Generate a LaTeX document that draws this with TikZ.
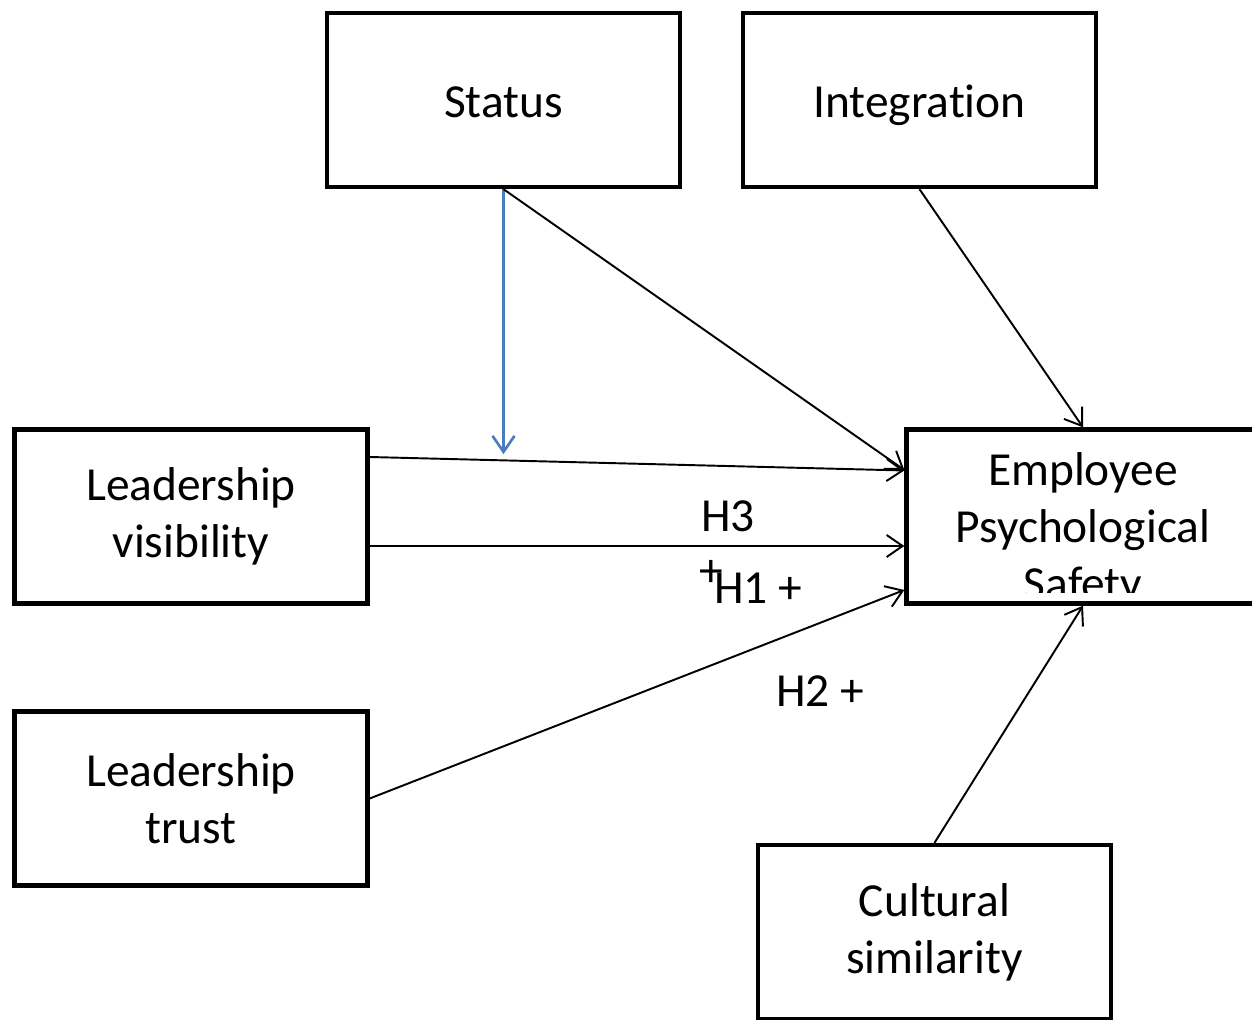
\documentclass[tikz,border=0pt]{standalone}
\usepackage{fontspec}
\setmainfont{Carlito}[Ligatures=NoCommon]
\usetikzlibrary{calc,arrows.meta}
\definecolor{modblue}{RGB}{74,126,187}

\begin{document}
\begin{tikzpicture}[x=0.02cm,y=-0.02cm,
                    factor/.style={draw,line width=2.5pt,minimum width=7.06cm,minimum height=3.48cm,
                                   inner sep=0pt,font=\fontsize{27}{32.4}\selectfont},
                    one line/.style={text height=25pt,text depth=5.4pt},
                    two lines/.style={align=center},
                    link/.style={line width=1.1pt,-{Straight Barb[length=0.32cm,width=0.44cm]}},
                    hyp label/.style={inner sep=0pt,font=\fontsize{27}{32.4}\selectfont}]
            \useasboundingbox (0,0) rectangle (1252,1020);
            \node[factor,one line] (status) at (503.5,100) {Status};
            \node[factor,one line] (integration) at (919.5,100) {Integration};
            \node[factor,two lines] (visibility) at (191,516.5) {Leadership\\visibility};
            \node[factor,two lines] (trust) at (191,798.5) {Leadership\\trust};
            \node[factor] (safety) at (1083,516.5) {};
            \node[factor,two lines] (cultural) at (934.5,932) {Cultural\\similarity};
            \begin{scope}
                \clip ($ (safety.south west) + (0,-13) $) rectangle (safety.north east);
                \node[hyp label,align=center] (safety text) at ($ (safety) + (0,13) $) {Employee\\Psychological\\Safety};
            \end{scope}

            \draw[link,modblue,line width=1.5pt] (status.south) -- ($ (status.south) + (0,265) $);
            \draw[link] (status.south) -- ($ (safety.west) + (0,-46.5) $);
            \draw[link] (integration.south) -- (safety.north);
            \draw[link] ($ (visibility.east) + (0,-59.5) $) -- ($ (safety.west) + (0,-46) $);
            \draw[link] ($ (visibility.east) + (0,29.5) $) -- ($ (safety.west) + (0,29.5) $);
            \draw[link] (trust.east) -- ($ (safety.west) + (0,73.5) $);
            \draw[link] (cultural.north) -- (safety.south);

            \node[hyp label] (h3) at (728,516) {H3};
            \node[hyp label] (h1 plus) at (711,573) {+};
            \node[hyp label] (h1) at (758,588) {H1 +};
            \node[hyp label] (h2) at (820,691) {H2 +};
        \end{tikzpicture}
\end{document}
